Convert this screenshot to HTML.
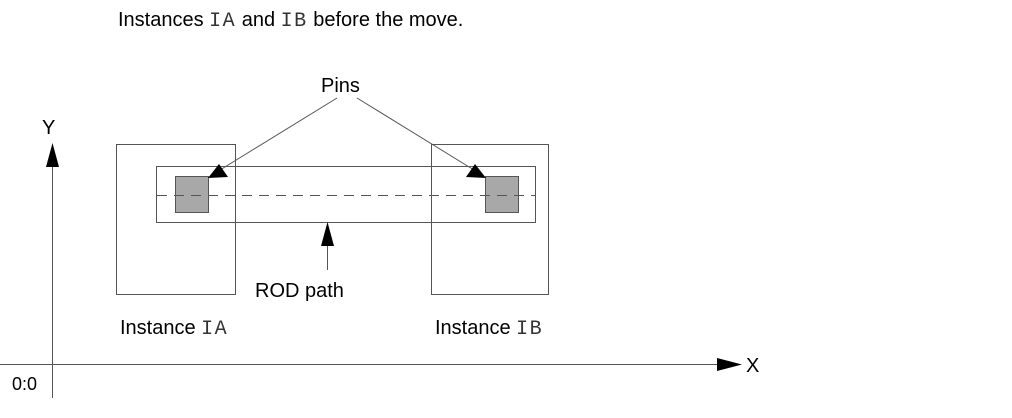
<!DOCTYPE html>
<html><head><meta charset="utf-8"><style>
html,body{margin:0;padding:0;background:#fff;}
svg{display:block;}
text{font-family:"Liberation Sans",sans-serif;font-size:20px;fill:#000;}
.m{font-family:"Liberation Mono",monospace;font-size:20px;fill:#333;letter-spacing:1.5px;}
</style></head><body>
<svg width="1012" height="418" viewBox="0 0 1012 418" xmlns="http://www.w3.org/2000/svg">
<text x="118" y="26">Instances <tspan class="m">IA</tspan> and <tspan class="m">IB</tspan> before the move.</text>
<g fill="none" stroke="#555" stroke-width="1">
<rect x="116.5" y="144.5" width="119" height="150"/>
<rect x="431.5" y="144.5" width="117" height="150"/>
<rect x="156.5" y="166.5" width="379" height="56"/>
</g>
<rect x="175.5" y="176.5" width="33" height="36" fill="#a8a8a8" stroke="#555"/>
<rect x="485.5" y="176.5" width="33" height="36" fill="#a8a8a8" stroke="#555"/>
<line x1="157" y1="195.5" x2="535" y2="195.5" stroke="#555" stroke-dasharray="10,7"/>
<line x1="337" y1="98" x2="220" y2="170" stroke="#555"/>
<polygon points="208,178 219,164 228,177" fill="#000"/>
<line x1="357" y1="98" x2="474" y2="170" stroke="#555"/>
<polygon points="486,178 466,177 475,164" fill="#000"/>
<text x="321" y="92">Pins</text>
<line x1="327.5" y1="240" x2="327.5" y2="270" stroke="#555"/>
<polygon points="327.5,222 321,246 334,246" fill="#000"/>
<text x="255" y="297">ROD path</text>
<text x="120" y="334">Instance <tspan class="m">IA</tspan></text>
<text x="435" y="334">Instance <tspan class="m">IB</tspan></text>
<line x1="52.5" y1="160" x2="52.5" y2="398" stroke="#555"/>
<polygon points="52.5,143 46,167 59,167" fill="#000"/>
<line x1="0" y1="364.5" x2="722" y2="364.5" stroke="#555"/>
<polygon points="742,364.5 717,358 717,371" fill="#000"/>
<text x="42" y="134">Y</text>
<text x="746" y="372">X</text>
<text x="12" y="390" style="font-size:18px">0:0</text>
</svg>
</body></html>
